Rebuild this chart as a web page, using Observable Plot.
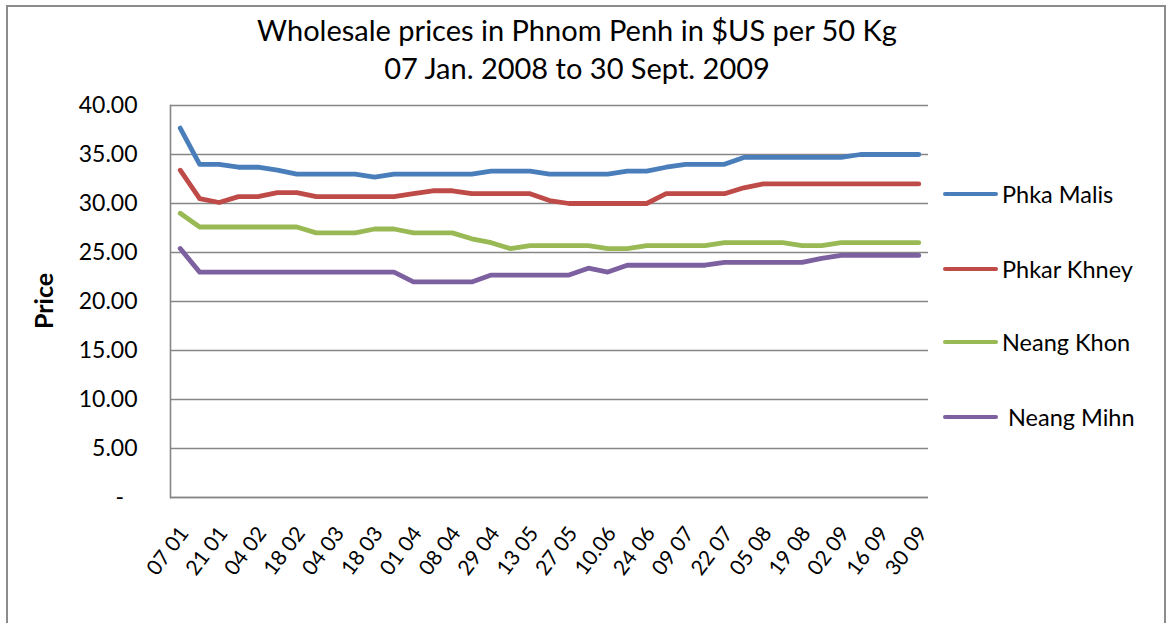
<!DOCTYPE html>
<html>
<head>
<meta charset="utf-8">
<script src="https://cdn.jsdelivr.net/npm/d3@7"></script>
<script src="https://cdn.jsdelivr.net/npm/@observablehq/plot@0.6"></script>
<style>
  body { margin: 0; background: #fff; font-family: Lato, "Open Sans", sans-serif; }
  #wrap { position: relative; width: 1167px; height: 623px; overflow: hidden; background: #fff; }
  #border { position: absolute; left: 6px; top: 5px; width: 1160px; height: 700px; border: 2px solid #8c8c8c; box-sizing: border-box; }
  #title { position: absolute; left: 0; top: 11px; width: 1154px; text-align: center; font-size: 29px; line-height: 38px; color: #000; }
  #ylabel { position: absolute; left: 43px; top: 301px; transform: translate(-50%, -50%) rotate(-90deg); font-size: 25px; font-weight: bold; color: #000; white-space: nowrap; }
  #chart { position: absolute; left: 0; top: 0; }
  .leg { position: absolute; left: 943px; display: flex; align-items: center; font-size: 23.5px; color: #000; white-space: nowrap; }
  .leg span.sw { display: inline-block; width: 55px; height: 4.5px; border-radius: 2px; margin-right: 4px; }
</style>
</head>
<body>
<div id="wrap">
  <div id="border"></div>
  <div id="title"></div>
  <div id="ylabel"></div>
  <div id="chart"></div>
</div>
<script>
// ---- data ----
const titleLines = ["Wholesale prices in Phnom Penh in $US per 50 Kg", "07 Jan. 2008 to 30 Sept. 2009"];
const yTitle = "Price";
const dates = [
  "07 01","14 01","21 01","28 01","04 02","11 02","18 02","25 02","04 03","11 03",
  "18 03","25 03","01 04","04 04","08 04","22 04","29 04","06 05","13 05","20 05",
  "27 05","03 06","10.06","17 06","24 06","01 07","09 07","15 07","22 07","29 07",
  "05 08","12 08","19 08","26 08","02 09","09 09","16 09","23 09","30 09"
];
const seriesNames = ["Phka Malis", "Phkar Khney", "Neang Khon", "Neang Mihn"];
const seriesColors = ["#4a7ebb", "#be4b48", "#98b954", "#7d60a0"];
const phkaMalis = [37.7,34.0,34.0,33.7,33.7,33.4,33.0,33.0,33.0,33.0,32.7,33.0,33.0,33.0,33.0,33.0,33.3,33.3,33.3,33.0,33.0,33.0,33.0,33.3,33.3,33.7,34.0,34.0,34.0,34.7,34.7,34.7,34.7,34.7,34.7,35.0,35.0,35.0,35.0];
const phkarKhney = [33.4,30.5,30.1,30.7,30.7,31.1,31.1,30.7,30.7,30.7,30.7,30.7,31.0,31.3,31.3,31.0,31.0,31.0,31.0,30.3,30.0,30.0,30.0,30.0,30.0,31.0,31.0,31.0,31.0,31.6,32.0,32.0,32.0,32.0,32.0,32.0,32.0,32.0,32.0];
const neangKhon = [29.0,27.6,27.6,27.6,27.6,27.6,27.6,27.0,27.0,27.0,27.4,27.4,27.0,27.0,27.0,26.4,26.0,25.4,25.7,25.7,25.7,25.7,25.4,25.4,25.7,25.7,25.7,25.7,26.0,26.0,26.0,26.0,25.7,25.7,26.0,26.0,26.0,26.0,26.0];
const neangMihn = [25.4,23.0,23.0,23.0,23.0,23.0,23.0,23.0,23.0,23.0,23.0,23.0,22.0,22.0,22.0,22.0,22.7,22.7,22.7,22.7,22.7,23.4,23.0,23.7,23.7,23.7,23.7,23.7,24.0,24.0,24.0,24.0,24.0,24.4,24.7,24.7,24.7,24.7,24.7];
const yTicks = [0, 5, 10, 15, 20, 25, 30, 35, 40];
const xTickLabels = dates.filter((d, i) => i % 2 === 0);

// ---- build table ----
const seriesValues = [phkaMalis, phkarKhney, neangKhon, neangMihn];
const data = [];
seriesValues.forEach((vals, s) => vals.forEach((v, i) => data.push({date: dates[i], price: v, series: seriesNames[s]})));

document.getElementById("title").innerHTML = titleLines.join("<br>");
document.getElementById("ylabel").textContent = yTitle;

const chart = Plot.plot({
  width: 1167,
  height: 623,
  marginLeft: 170,
  marginRight: 239,
  marginTop: 105,
  marginBottom: 126,
  style: {fontFamily: "Lato, 'Open Sans', sans-serif", color: "#000", background: "transparent", overflow: "visible"},
  x: {type: "point", domain: dates, padding: 0.5, round: false, label: null},
  y: {domain: [0, 40], label: null},
  color: {domain: seriesNames, range: seriesColors},
  marks: [
    Plot.gridY(yTicks, {stroke: "#868686", strokeOpacity: 1, strokeWidth: 1.6}),
    Plot.frame({anchor: "left", stroke: "#868686", strokeWidth: 1.6}),
    Plot.ruleY([0], {stroke: "#868686", strokeWidth: 1.6}),
    Plot.axisY(yTicks, {tickSize: 0, tickPadding: 33, fontSize: 23, tickFormat: d => d === 0 ? "-\u2007" : d.toFixed(2), label: null}),
    Plot.axisX(xTickLabels, {tickSize: 0, tickRotate: -53, tickPadding: 32, dx: 4, fontSize: 21, label: null}),
    Plot.line(data, {x: "date", y: "price", z: "series", stroke: "series", strokeWidth: 4.8, strokeLinecap: "round", strokeLinejoin: "round"})
  ]
});
document.getElementById("chart").appendChild(chart);

// legend
const legendY = [194, 269, 342, 417];
const legendTextDx = [0, 0, 0, 6];
seriesNames.forEach((name, i) => {
  const d = document.createElement("div");
  d.className = "leg";
  d.style.top = (legendY[i] - 15) + "px";
  d.style.height = "30px";
  d.innerHTML = `<span class="sw" style="background:${seriesColors[i]}"></span><span style="margin-left:${legendTextDx[i]}px">${name}</span>`;
  document.getElementById("wrap").appendChild(d);
});
</script>
</body>
</html>
